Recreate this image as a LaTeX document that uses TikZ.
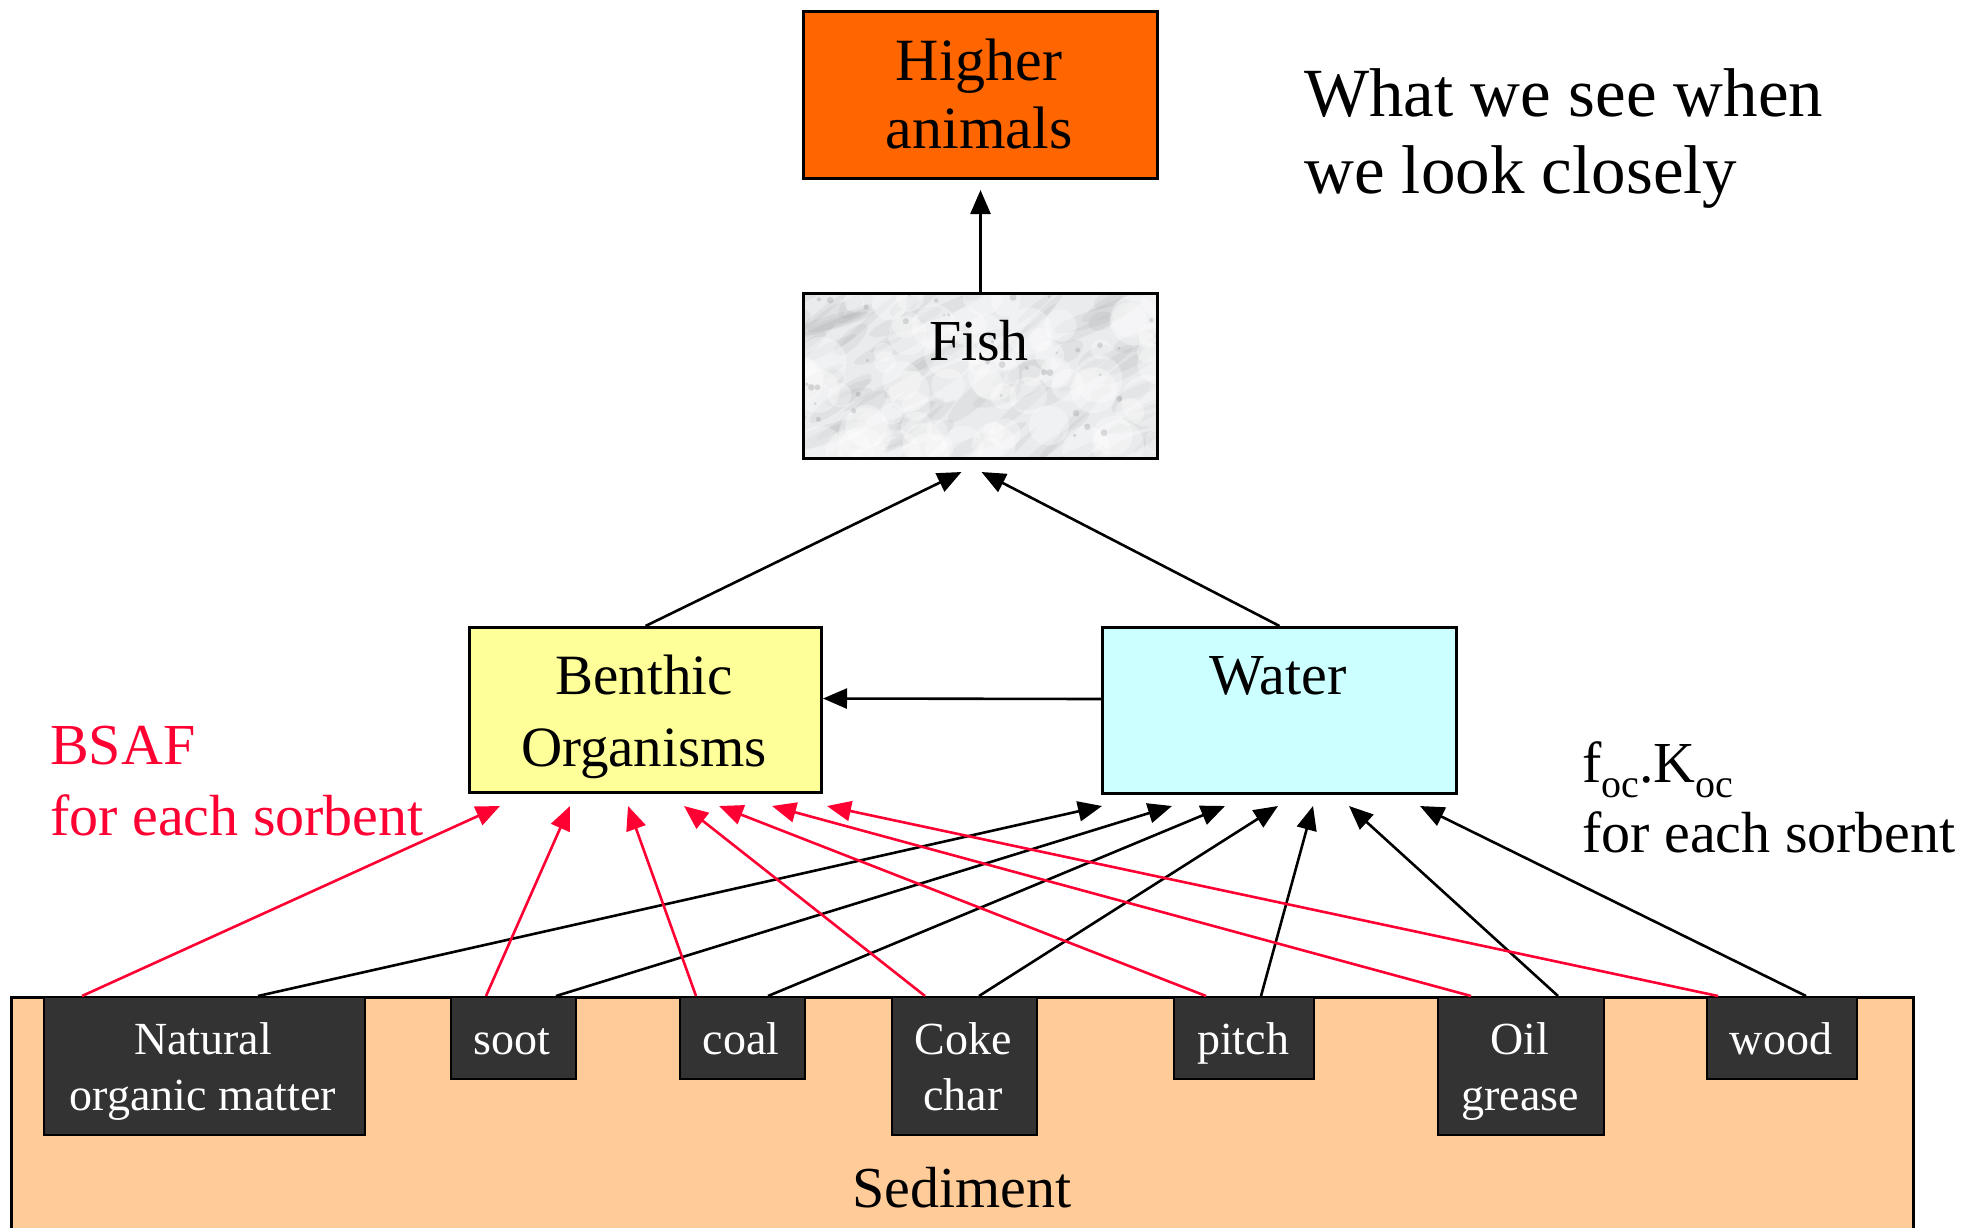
\documentclass[tikz,border=0pt]{standalone}
\usepackage{fontspec}
\setmainfont{Liberation Serif}
\usetikzlibrary{arrows.meta}
\definecolor{hiorange}{HTML}{FF6600}
\definecolor{benyellow}{HTML}{FFFF99}
\definecolor{watcyan}{HTML}{CCFFFF}
\definecolor{sedpeach}{HTML}{FFCC99}
\definecolor{sorbgray}{HTML}{333333}
\definecolor{bsafred}{HTML}{FF0033}
\definecolor{fishbase}{HTML}{E9EBED}
\newcommand\fsz[2]{\fontsize{#1}{#2}\selectfont}
\begin{document}
\begin{tikzpicture}[x=1pt,y=-1pt,
  bigbox/.style={draw=black, line width=3pt, inner sep=0pt, anchor=north west},
  sorbbox/.style={draw=black, line width=2pt, fill=sorbgray, inner sep=0pt, anchor=north west},
  txt/.style={anchor=base, inner sep=0pt},
  ltxt/.style={anchor=base west, inner sep=0pt},
  boxfont/.style={font=\fsz{58}{70}},
  sorbfont/.style={font=\fsz{46}{56}, text=white},
  blkarr/.style={draw=black, line width=2.6pt, -{Triangle[length=24pt,width=20pt]}},
  redarr/.style={draw=bsafred, line width=2.6pt, -{Triangle[length=24pt,width=20pt]}}
]
\useasboundingbox (0,0) rectangle (1979,1227);

% Sediment
\node[bigbox, fill=sedpeach, minimum width=1902pt, minimum height=260pt] (sed) at (10,996) {};
\node[txt, boxfont] (sedtxt) at (962,1207) {Sediment};

% Higher animals
\node[bigbox, fill=hiorange, minimum width=354pt, minimum height=167pt] (hi) at (802,10) {};
\node[txt] (hitxt) at (979,80) {\fsz{60}{68}\begin{tabular}[t]{@{}c@{}}Higher\\animals\end{tabular}};

% Fish with marble texture
\begin{scope}
  \clip (802,292) rectangle (1156,457);
  \fill[fishbase] (802,292) rectangle (1156,457);
  \pgfmathsetseed{12}
  \foreach \i in {1,...,90} {
    \pgfmathsetmacro\xx{790+380*rnd}
    \pgfmathsetmacro\yy{285+180*rnd}
    \pgfmathsetmacro\aa{15+30*rnd}
    \pgfmathsetmacro\ll{10+35*rnd}
    \pgfmathsetmacro\ww{3+7*rnd}
    \fill[gray, opacity=0.09, rotate around={\aa:(\xx,\yy)}] (\xx,\yy) ellipse [x radius=\ll, y radius=\ww];
  }
  \foreach \i in {1,...,70} {
    \pgfmathsetmacro\xx{800+360*rnd}
    \pgfmathsetmacro\yy{290+170*rnd}
    \pgfmathsetmacro\rr{8+18*rnd}
    \fill[white, opacity=0.35] (\xx,\yy) circle [radius=\rr];
  }
  \foreach \i in {1,...,40} {
    \pgfmathsetmacro\xx{800+360*rnd}
    \pgfmathsetmacro\yy{290+170*rnd}
    \pgfmathsetmacro\rr{1+2.5*rnd}
    \fill[gray, opacity=0.25] (\xx,\yy) circle [radius=\rr];
  }
\end{scope}
\node[bigbox, minimum width=354pt, minimum height=165pt] (fish) at (802,292) {};
\node[txt, boxfont] (fishtxt) at (979,360) {Fish};

% Benthic and Water
\node[bigbox, fill=benyellow, minimum width=352pt, minimum height=165pt] (ben) at (468,626) {};
\node[txt] (bentxt) at (644,694) {\fsz{57}{72}\begin{tabular}[t]{@{}c@{}}Benthic\\Organisms\end{tabular}};
\node[bigbox, fill=watcyan, minimum width=354pt, minimum height=166pt] (wat) at (1101,626) {};
\node[txt, boxfont] (wattxt) at (1278,694) {Water};

% Sorbents
\node[sorbbox, minimum width=321pt, minimum height=138pt] (nom) at (43,996) {};
\node[sorbbox, minimum width=125pt, minimum height=82pt] (soot) at (450,996) {};
\node[sorbbox, minimum width=125pt, minimum height=82pt] (coal) at (679,996) {};
\node[sorbbox, minimum width=145pt, minimum height=138pt] (coke) at (891,996) {};
\node[sorbbox, minimum width=140pt, minimum height=82pt] (pitch) at (1173,996) {};
\node[sorbbox, minimum width=166pt, minimum height=138pt] (oil) at (1437,996) {};
\node[sorbbox, minimum width=150pt, minimum height=82pt] (wood) at (1706,996) {};

\node[txt, sorbfont] (nomtxt) at (203,1054) {\begin{tabular}[t]{@{}c@{}}Natural\\organic matter\end{tabular}};
\node[txt, sorbfont] (soottxt) at (512,1054) {soot};
\node[txt, sorbfont] (coaltxt) at (741,1054) {coal};
\node[txt, sorbfont] (coketxt) at (963,1054) {\begin{tabular}[t]{@{}c@{}}Coke\\char\end{tabular}};
\node[txt, sorbfont] (pitchtxt) at (1243,1054) {pitch};
\node[txt, sorbfont] (oiltxt) at (1520,1054) {\begin{tabular}[t]{@{}c@{}}Oil\\grease\end{tabular}};
\node[txt, sorbfont] (woodtxt) at (1781,1054) {wood};

% Side texts
\node[ltxt] (what) at (1304,116) {\fsz{69}{77}\begin{tabular}[t]{@{}l@{}}What we see when\\we look closely\end{tabular}};
\node[ltxt, text=bsafred] (bsaf) at (50,764) {\fsz{58}{71}\begin{tabular}[t]{@{}l@{}}BSAF\\for each sorbent\end{tabular}};
\node[ltxt] (foc) at (1582,782) {\fsz{58}{70}\begin{tabular}[t]{@{}l@{}}f\raisebox{-15pt}{\fsz{40}{40}oc}.K\raisebox{-15pt}{\fsz{40}{40}oc}\\for each sorbent\end{tabular}};

% Connectors
\draw[blkarr] (fish.north) -- ([yshift=-10pt]hi.south);
\draw[blkarr] (ben.north) -- ([xshift=-19pt,yshift=-12pt]fish.south);
\draw[blkarr] (wat.north) -- ([xshift=1pt,yshift=-12pt]fish.south);
\draw[blkarr] ([yshift=11.5pt]wat.west) -- ([yshift=11.5pt]ben.east);

\foreach \s/\rt/\bt/\rh/\bh in {nom/39/215/32/1, soot/36/106/102/71, coal/17/89/160/124, coke/34/88/216/177, pitch/33/88/251/212, oil/34/121/304/248, wood/12/100/359/319} {
  \draw[redarr] ([xshift=\rt pt]\s.north west) -- ([xshift=\rh pt,yshift=-12pt]ben.south west);
  \draw[blkarr] ([xshift=\bt pt]\s.north west) -- ([xshift=\bh pt,yshift=-11pt]wat.south west);
}
\end{tikzpicture}
\end{document}
